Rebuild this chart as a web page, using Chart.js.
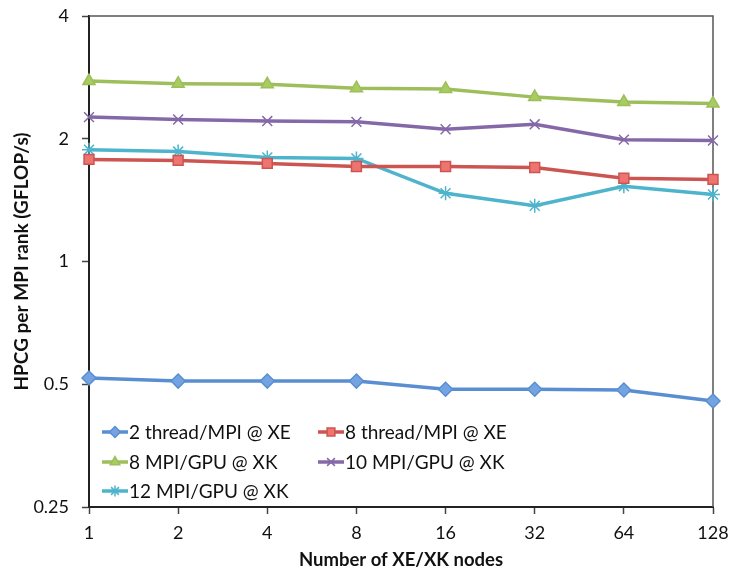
<!DOCTYPE html>
<html>
<head>
<meta charset="utf-8">
<script src="https://cdn.jsdelivr.net/npm/chart.js@4/dist/chart.umd.min.js"></script>
<style>
  html, body { margin: 0; padding: 0; background: #fff; }
  #wrap { width: 730px; height: 571px; }
</style>
</head>
<body>
<div id="wrap"><canvas id="hpcgChart" width="730" height="571"></canvas></div>
<script>
// categories (nodes) and y tick labels
const nodes = ['1', '2', '4', '8', '16', '32', '64', '128'];
const yTicks = [0.25, 0.5, 1, 2, 4];

// GFLOP/s per MPI rank
const thread2XE = [0.518, 0.509, 0.509, 0.509, 0.486, 0.486, 0.484, 0.455];
const thread8XE = [1.78, 1.77, 1.74, 1.71, 1.71, 1.70, 1.60, 1.59];
const mpi8XK = [2.77, 2.73, 2.72, 2.66, 2.65, 2.53, 2.46, 2.44];
const mpi10XK = [2.26, 2.23, 2.21, 2.20, 2.11, 2.17, 1.99, 1.98];
const mpi12XK = [1.88, 1.86, 1.80, 1.79, 1.47, 1.37, 1.53, 1.46];

const font = "Lato, 'Open Sans', sans-serif";

function serie(label, data, color, fill, style, radius) {
  return {
    label: label,
    data: data,
    borderColor: color,
    backgroundColor: fill,
    borderWidth: 3.5,
    pointStyle: style,
    pointRadius: radius,
    pointBorderWidth: 1.5,
    pointBorderColor: color,
    pointBackgroundColor: fill,
    tension: 0
  };
}

// legend drawn inside the plot, bottom left, two columns
const insideLegend = {
  id: 'insideLegend',
  afterDatasetsDraw(chart) {
    const ctx = chart.ctx;
    const area = chart.chartArea;
    const cols = [area.left + 13, area.left + 229];
    const rows = [area.bottom - 75, area.bottom - 45, area.bottom - 16];
    ctx.save();
    chart.data.datasets.forEach((ds, i) => {
      const x = cols[i % 2];
      const y = rows[Math.floor(i / 2)];
      ctx.strokeStyle = ds.borderColor;
      ctx.lineWidth = 3.5;
      ctx.beginPath();
      ctx.moveTo(x, y);
      ctx.lineTo(x + 26, y);
      ctx.stroke();
      ctx.fillStyle = ds.pointBackgroundColor;
      ctx.strokeStyle = ds.pointBorderColor;
      ctx.lineWidth = 1.5;
      Chart.helpers.drawPoint(ctx, {
        pointStyle: ds.pointStyle,
        radius: ds.pointRadius - 1.5,
        rotation: 0,
        borderWidth: 1.5
      }, x + 13, y);
      ctx.fillStyle = '#111';
      ctx.font = '19px ' + font;
      ctx.textBaseline = 'middle';
      ctx.textAlign = 'left';
      ctx.fillText(ds.label, x + 27, y + 1);
    });
    ctx.restore();
  }
};

// thin grey frame round the plot
const plotFrame = {
  id: 'plotFrame',
  beforeDatasetsDraw(chart) {
    const ctx = chart.ctx;
    const a = chart.chartArea;
    ctx.save();
    ctx.strokeStyle = '#555';
    ctx.lineWidth = 1.5;
    ctx.beginPath();
    ctx.moveTo(a.left, a.top);
    ctx.lineTo(a.right, a.top);
    ctx.lineTo(a.right, a.bottom);
    ctx.stroke();
    ctx.restore();
  }
};

const ctx = document.getElementById('hpcgChart').getContext('2d');
new Chart(ctx, {
  type: 'line',
  data: {
    labels: nodes,
    datasets: [
      serie('2 thread/MPI @ XE', thread2XE, '#5A8ED2', '#74A3E2', 'rectRot', 7),
      serie('8 thread/MPI @ XE', thread8XE, '#CC5552', '#EE7470', 'rect', 7),
      serie('8 MPI/GPU @ XK', mpi8XK, '#9DBE5B', '#A8CC60', 'triangle', 7),
      serie('10 MPI/GPU @ XK', mpi10XK, '#8468A8', '#8468A8', 'crossRot', 7),
      serie('12 MPI/GPU @ XK', mpi12XK, '#4DB4CC', '#4DB4CC', 'star', 7)
    ]
  },
  options: {
    responsive: false,
    animation: false,
    layout: { padding: { top: 16, right: 17, left: 0, bottom: 0 } },
    plugins: {
      legend: { display: false },
      tooltip: { enabled: false }
    },
    scales: {
      x: {
        type: 'category',
        offset: false,
        afterFit(scale) {
          scale.height = 64;
          scale.paddingLeft = 0;
          scale.paddingRight = 0;
        },
        grid: {
          display: true,
          drawOnChartArea: false,
          drawTicks: true,
          tickLength: 7,
          tickWidth: 1.5,
          tickColor: '#444',
          offset: false
        },
        border: { display: true, color: '#222', width: 2 },
        ticks: {
          color: '#111',
          font: { family: font, size: 18 },
          padding: 8,
          maxRotation: 0,
          autoSkip: false
        },
        title: {
          display: true,
          text: 'Number of XE/XK nodes',
          color: '#111',
          font: { family: font, size: 18.5, weight: 'bold' },
          padding: { top: 0, bottom: 0 }
        }
      },
      y: {
        type: 'logarithmic',
        min: 0.25,
        max: 4,
        afterFit(scale) {
          scale.width = 89;
          scale.paddingTop = 0;
          scale.paddingBottom = 0;
        },
        afterBuildTicks(scale) {
          scale.ticks = yTicks.map(v => ({ value: v }));
        },
        grid: {
          display: true,
          drawOnChartArea: false,
          drawTicks: true,
          tickLength: 7,
          tickWidth: 1.5,
          tickColor: '#444'
        },
        border: { display: true, color: '#222', width: 2 },
        ticks: {
          color: '#111',
          font: { family: font, size: 18 },
          padding: 13,
          callback: v => String(v)
        },
        title: {
          display: true,
          text: 'HPCG per MPI rank (GFLOP/s)',
          color: '#111',
          font: { family: font, size: 19, weight: 'bold' },
          padding: { top: 10, bottom: 0 }
        }
      }
    }
  },
  plugins: [plotFrame, insideLegend]
});
</script>
</body>
</html>
